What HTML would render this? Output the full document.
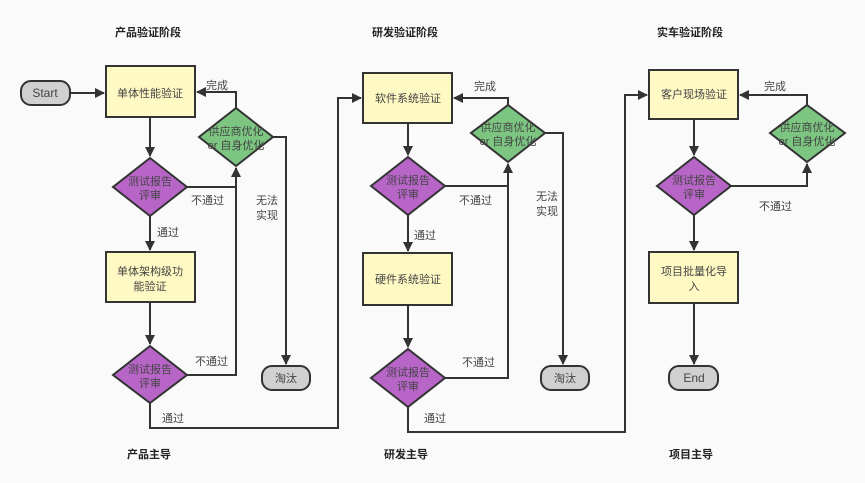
<!DOCTYPE html>
<html><head><meta charset="utf-8"><style>
html,body{margin:0;padding:0;background:#fafafa;}
svg{display:block;font-family:"Liberation Sans","Noto Sans CJK SC",sans-serif;}
.t{font-size:11px;fill:#444;}
.h{font-size:11px;font-weight:bold;fill:#222;}
.ln{fill:none;stroke:#333;stroke-width:2;}
.y{fill:#fff9c4;stroke:#333;stroke-width:2;}
.p{fill:#b865c8;stroke:#333;stroke-width:2;}
.g{fill:#7dc682;stroke:#333;stroke-width:2;}
.r{fill:#d0d0d0;stroke:#333;stroke-width:2;}
</style></head><body>
<svg width="865" height="483" viewBox="0 0 865 483">
<defs><marker id="a" viewBox="0 0 10 10" refX="9" refY="5" markerWidth="5" markerHeight="5" orient="auto"><path d="M0,0L10,5L0,10z" fill="#333"/></marker></defs>
<rect width="865" height="483" fill="#fafafa"/>
<g text-anchor="middle">
<text class="h" x="148" y="36">产品验证阶段</text>
<text class="h" x="405" y="36">研发验证阶段</text>
<text class="h" x="690" y="36">实车验证阶段</text>
<text class="h" x="149" y="458">产品主导</text>
<text class="h" x="406" y="458">研发主导</text>
<text class="h" x="691" y="458">项目主导</text>
</g>
<!-- connectors col1 -->
<path class="ln" d="M70,93H104" marker-end="url(#a)"/>
<path class="ln" d="M150,117V156" marker-end="url(#a)"/>
<path class="ln" d="M150,216V250" marker-end="url(#a)"/>
<path class="ln" d="M150,302V344" marker-end="url(#a)"/>
<path class="ln" d="M236,108V92H197" marker-end="url(#a)"/>
<path class="ln" d="M187,187H236V168" marker-end="url(#a)"/>
<path class="ln" d="M187,375H236V187"/>
<path class="ln" d="M273,137H286V364" marker-end="url(#a)"/>
<path class="ln" d="M150,403V428H338V98H361" marker-end="url(#a)"/>
<!-- col2 -->
<path class="ln" d="M408,123V155" marker-end="url(#a)"/>
<path class="ln" d="M408,215V251" marker-end="url(#a)"/>
<path class="ln" d="M408,305V347" marker-end="url(#a)"/>
<path class="ln" d="M508,105V98H454" marker-end="url(#a)"/>
<path class="ln" d="M445,186H508V164" marker-end="url(#a)"/>
<path class="ln" d="M445,378H508V186"/>
<path class="ln" d="M545,133H563V364" marker-end="url(#a)"/>
<path class="ln" d="M408,407V432H625V95H647" marker-end="url(#a)"/>
<!-- col3 -->
<path class="ln" d="M694,119V155" marker-end="url(#a)"/>
<path class="ln" d="M694,215V250" marker-end="url(#a)"/>
<path class="ln" d="M694,303V364" marker-end="url(#a)"/>
<path class="ln" d="M807,105V95H740" marker-end="url(#a)"/>
<path class="ln" d="M731,186H807V164" marker-end="url(#a)"/>
<!-- shapes -->
<rect class="r" x="21" y="81" width="49" height="24" rx="10"/>
<rect class="y" x="106" y="66" width="89" height="51"/>
<polygon class="p" points="150,158 187,187 150,216 113,187"/>
<polygon class="g" points="236,108 273,137 236,166 199,137"/>
<rect class="y" x="106" y="252" width="89" height="50"/>
<polygon class="p" points="150,346 187,375 150,403 113,375"/>
<rect class="r" x="262" y="366" width="48" height="24" rx="10"/>
<rect class="y" x="363" y="73" width="89" height="50"/>
<polygon class="p" points="408,157 445,186 408,215 371,186"/>
<polygon class="g" points="508,105 545,133 508,162 471,133"/>
<rect class="y" x="363" y="253" width="89" height="52"/>
<polygon class="p" points="408,349 445,378 408,407 371,378"/>
<rect class="r" x="541" y="366" width="48" height="24" rx="10"/>
<rect class="y" x="649" y="70" width="89" height="49"/>
<polygon class="p" points="694,157 731,186 694,215 657,186"/>
<polygon class="g" points="807,105 845,133 807,162 770,133"/>
<rect class="y" x="649" y="252" width="89" height="51"/>
<rect class="r" x="669" y="366" width="49" height="24" rx="10"/>
<!-- labels -->
<g class="t" text-anchor="middle">
<text x="45" y="97" font-size="12">Start</text>
<text x="150" y="97">单体性能验证</text>
<text x="150" y="185">测试报告</text><text x="150" y="199">评审</text>
<text x="236" y="135">供应商优化</text><text x="236" y="149">or 自身优化</text>
<text x="150" y="275">单体架构级功</text><text x="150" y="290">能验证</text>
<text x="150" y="373">测试报告</text><text x="150" y="387">评审</text>
<text x="286" y="382">淘汰</text>
<text x="408" y="102">软件系统验证</text>
<text x="408" y="184">测试报告</text><text x="408" y="198">评审</text>
<text x="508" y="131">供应商优化</text><text x="508" y="145">or 自身优化</text>
<text x="408" y="283">硬件系统验证</text>
<text x="408" y="376">测试报告</text><text x="408" y="390">评审</text>
<text x="565" y="382">淘汰</text>
<text x="694" y="98">客户现场验证</text>
<text x="694" y="184">测试报告</text><text x="694" y="198">评审</text>
<text x="807" y="131">供应商优化</text><text x="807" y="145">or 自身优化</text>
<text x="694" y="275">项目批量化导</text><text x="694" y="290">入</text>
<text x="694" y="382" font-size="12">End</text>
</g>
<g class="t">
<text x="206" y="89">完成</text>
<text x="191" y="204">不通过</text>
<text x="157" y="236">通过</text>
<text x="256" y="204">无法</text><text x="256" y="219">实现</text>
<text x="195" y="365">不通过</text>
<text x="162" y="422">通过</text>
<text x="474" y="90">完成</text>
<text x="459" y="204">不通过</text>
<text x="414" y="239">通过</text>
<text x="536" y="200">无法</text><text x="536" y="215">实现</text>
<text x="462" y="366">不通过</text>
<text x="424" y="422">通过</text>
<text x="764" y="90">完成</text>
<text x="759" y="210">不通过</text>
</g>
</svg>
</body></html>
